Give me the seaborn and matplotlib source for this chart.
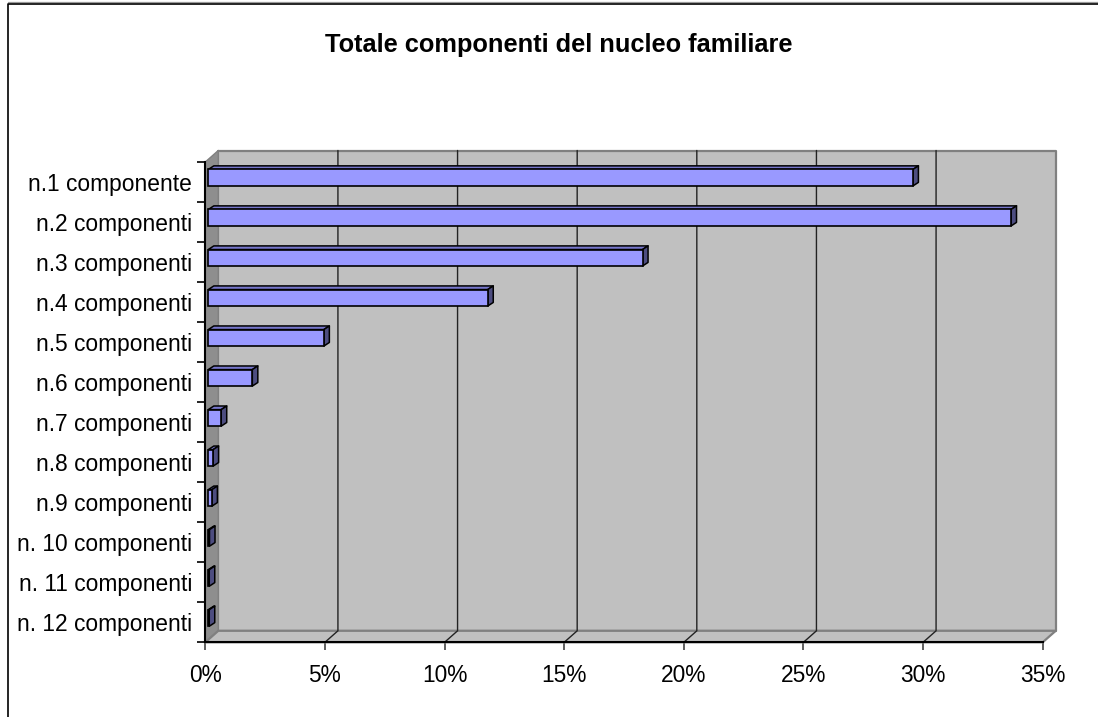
import matplotlib
matplotlib.use("Agg")
import matplotlib.pyplot as plt
import pandas as pd
import seaborn as sns
from matplotlib.lines import Line2D
from matplotlib.patches import Polygon
from matplotlib.ticker import PercentFormatter
from matplotlib.transforms import Affine2D, IdentityTransform

categories = ["n.1 componente", "n.2 componenti", "n.3 componenti", "n.4 componenti",
              "n.5 componenti", "n.6 componenti", "n.7 componenti", "n.8 componenti",
              "n.9 componenti", "n. 10 componenti", "n. 11 componenti", "n. 12 componenti"]
values = [29.45, 33.55, 18.15, 11.68, 4.83, 1.84, 0.54, 0.20, 0.15, 0.05, 0.04, 0.04]
x_ticks = [0, 5, 10, 15, 20, 25, 30, 35]
title = "Totale componenti del nucleo familiare"

W, H = 1098, 717
sns.set_style("white")
plt.rcParams["font.family"] = ["Liberation Sans", "DejaVu Sans"]

fig = plt.figure(figsize=(W / 100, H / 100), dpi=100, facecolor="white")
L, R, T, B = 205.3, 1042.7, 162.0, 642.3
ax = fig.add_axes([L / W, 1 - B / H, (R - L) / W, (B - T) / H])
ax.patch.set_visible(False)

df = pd.DataFrame({"categoria": categories, "valore": values})
sns.barplot(data=df, x="valore", y="categoria", orient="h", width=16.5 / 40,
            color="#9999FF", saturation=1, edgecolor="black", linewidth=1.2,
            ax=ax, zorder=5)
bars = list(ax.patches)
ax.set_xlim(0, 35)
ax.set_ylim(len(categories) - 0.5, -0.5)
ax.set_xlabel("")
ax.set_ylabel("")

# depth offsets in pixels
WX, WY = 13.0, 11.5   # back wall
BX, BY = 3.0, 4.3     # front face of the bars
DX, DY = 5.5, 3.6     # bar depth


def d(x, y, ox=0.0, oy=0.0):
    p = ax.transData.transform((x, y))
    return (p[0] + ox, p[1] + oy)


def face(pts, fc, ec, lw, z):
    ax.add_artist(Polygon(pts, closed=True, facecolor=fc, edgecolor=ec, linewidth=lw,
                          transform=IdentityTransform(), zorder=z, clip_on=False,
                          joinstyle="round"))


def seg(pts, color, lw, z):
    ax.add_artist(Line2D([p[0] for p in pts], [p[1] for p in pts], color=color, linewidth=lw,
                         transform=IdentityTransform(), zorder=z, clip_on=False))


y0, y1 = ax.get_ylim()
x0, x1 = ax.get_xlim()
# back wall, side wall, floor
face([d(x0, y0, WX, WY), d(x1, y0, WX, WY), d(x1, y1, WX, WY), d(x0, y1, WX, WY)],
     "#C0C0C0", "#808080", 1.6, 1)
face([d(x0, y0), d(x0, y0, WX, WY), d(x0, y1, WX, WY), d(x0, y1)], "#8E8E8E", "#808080", 1.0, 1.1)
face([d(x0, y0), d(x1, y0), d(x1, y0, WX, WY), d(x0, y0, WX, WY)], "#C0C0C0", "#808080", 1.6, 1.1)
for t in x_ticks[1:-1]:
    seg([d(t, y0), d(t, y0, WX, WY), d(t, y1, WX, WY)], "#222222", 1.0, 2)

# 3D bars from the seaborn patches
shift = ax.transData + Affine2D().translate(BX, BY)
for bar in bars:
    bx, by, bw, bh = bar.get_x(), bar.get_y(), bar.get_width(), bar.get_height()
    top, bot = min(by, by + bh), max(by, by + bh)
    ox, oy = BX, BY
    face([d(bx, top, ox, oy), d(bx + bw, top, ox, oy),
          d(bx + bw, top, ox + DX, oy + DY), d(bx, top, ox + DX, oy + DY)],
         "#7777CC", "black", 1.1, 4)
    face([d(bx + bw, top, ox, oy), d(bx + bw, bot, ox, oy),
          d(bx + bw, bot, ox + DX, oy + DY), d(bx + bw, top, ox + DX, oy + DY)],
         "#4D4D80", "black", 1.1, 4)
    bar.set_transform(shift)
    bar.set_clip_on(False)

# axes
sns.despine(ax=ax, top=True, right=True)
for s in ("left", "bottom"):
    ax.spines[s].set_color("black")
    ax.spines[s].set_linewidth(1.5)
    ax.spines[s].set_zorder(6)

ax.set_xticks(x_ticks)
ax.xaxis.set_major_formatter(PercentFormatter(decimals=0))
ax.tick_params(axis="x", which="major", bottom=True, length=5.8, width=1.2, color="#444444",
               pad=9.5, labelsize=16.4, labelcolor="black")
ax.set_yticks(range(len(categories)))
ax.set_yticklabels(categories)
ax.set_yticks([i - 0.5 for i in range(len(categories) + 1)], minor=True)
ax.tick_params(axis="y", which="major", left=False, length=0, pad=9.4, labelsize=16.4, labelcolor="black")
ax.tick_params(axis="y", which="minor", left=True, length=5.8, width=1.2, color="black")

fig.text(559 / W, 1 - 45 / H, title, ha="center", va="center", fontsize=18.3, fontweight="bold", color="black")

# chart frame running off the right and bottom of the picture
fig.add_artist(Line2D([7.5, W], [H - 2.0, H - 2.0], color="#9A9A9A", linewidth=0.9, transform=IdentityTransform()))
fig.add_artist(Line2D([7.5, 7.5, W], [0, H - 3.5, H - 3.5], color="black", linewidth=1.2, transform=IdentityTransform()))

fig.savefig("out.png", dpi=100, facecolor="white")
